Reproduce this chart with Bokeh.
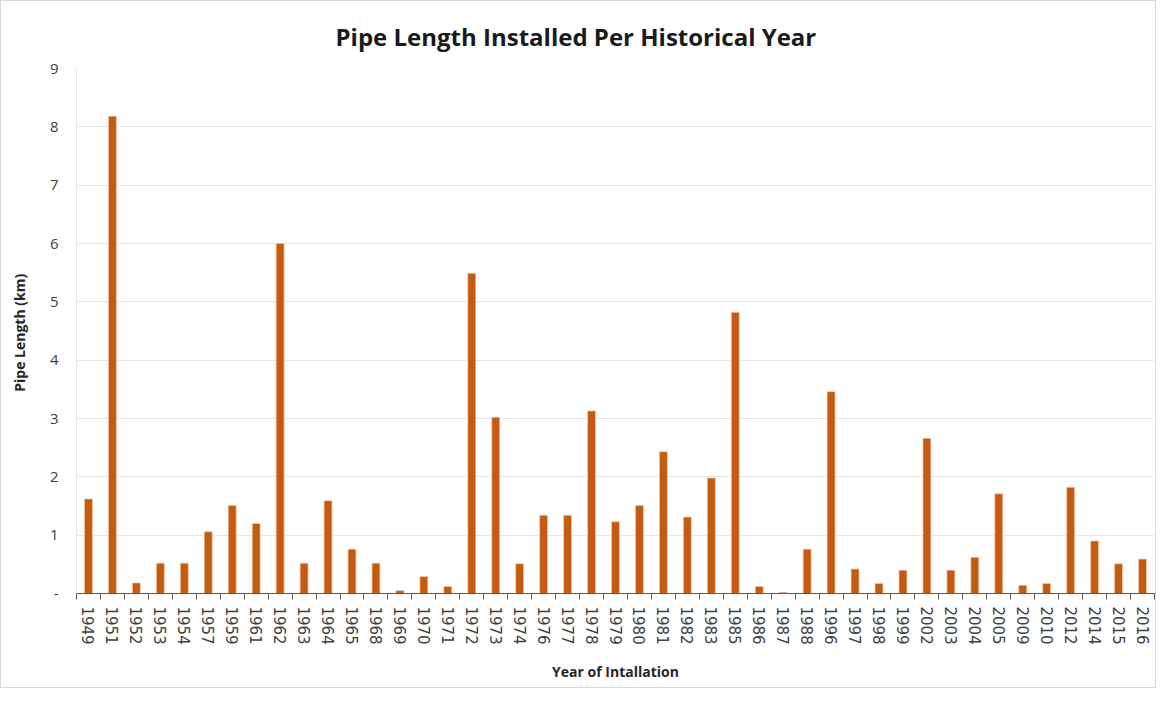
from bokeh.plotting import figure
from bokeh.models import Range1d, FixedTicker, ColumnDataSource, Title
from bokeh.embed import file_html
from bokeh.resources import INLINE
import numpy as np

years = ["1949", "1951", "1952", "1953", "1954", "1957", "1959", "1961", "1962", "1963",
         "1964", "1965", "1968", "1969", "1970", "1971", "1972", "1973", "1974", "1976",
         "1977", "1978", "1979", "1980", "1981", "1982", "1983", "1985", "1986", "1987",
         "1988", "1996", "1997", "1998", "1999", "2002", "2003", "2004", "2005", "2009",
         "2010", "2012", "2014", "2015", "2016"]
lengths = [1.62, 8.18, 0.18, 0.52, 0.52, 1.06, 1.51, 1.20, 6.00, 0.52,
           1.59, 0.76, 0.52, 0.05, 0.29, 0.12, 5.49, 3.02, 0.51, 1.34,
           1.34, 3.13, 1.23, 1.51, 2.43, 1.31, 1.98, 4.82, 0.12, 0.02,
           0.76, 3.46, 0.42, 0.17, 0.40, 2.66, 0.40, 0.62, 1.71, 0.14,
           0.17, 1.82, 0.90, 0.51, 0.59]
y_ticks = [0, 1, 2, 3, 4, 5, 6, 7, 8, 9]
y_labels = ["-", "1", "2", "3", "4", "5", "6", "7", "8", "9"]

n = len(years)
pos = np.arange(n) + 0.5
src = ColumnDataSource(dict(x=pos, top=lengths, year=years))

p = figure(width=1156, height=688, output_backend="svg", toolbar_location=None,
           x_range=Range1d(0, n), y_range=Range1d(0, 9),
           min_border_left=75, min_border_right=3, min_border_top=67, min_border_bottom=96,
           styles={"border": "1px solid #d9d9d9"})
p.outline_line_color = None

t = Title(text="Pipe Length Installed Per Historical Year", align="left", offset=259,
          text_font="Open Sans", text_font_size="24px", text_font_style="bold",
          text_color="#1a1a1a", standoff=31)
p.title = t

p.vbar(x="x", top="top", width=0.33, source=src, fill_color="#C55A11",
       line_color="#f0c9ad", line_width=0.7)

# x axis
p.xaxis.ticker = FixedTicker(ticks=list(pos), minor_ticks=list(range(n + 1)))
p.xaxis.major_label_overrides = {float(x): y for x, y in zip(pos, years)}
p.xaxis.major_label_orientation = "vertical"
p.xaxis.major_tick_line_color = None
p.xaxis.minor_tick_line_color = "#595959"
p.xaxis.minor_tick_out = 6
p.xaxis.minor_tick_in = 0
p.xaxis.axis_line_color = "#595959"
p.xaxis.major_label_text_font = "DejaVu Sans"
p.xaxis.major_label_text_font_size = "15px"
p.xaxis.major_label_text_color = "#404040"
p.xaxis.major_label_standoff = 7
p.xaxis.axis_label = "Year of Intallation"
p.xaxis.axis_label_text_font = "Open Sans"
p.xaxis.axis_label_text_font_size = "14px"
p.xaxis.axis_label_text_font_style = "bold"
p.xaxis.axis_label_text_color = "#262626"
p.xaxis.axis_label_standoff = 14

# y axis
p.yaxis.ticker = FixedTicker(ticks=y_ticks)
p.yaxis.major_label_overrides = {t_: l for t_, l in zip(y_ticks, y_labels)}
p.yaxis.major_tick_line_color = None
p.yaxis.minor_tick_line_color = None
p.yaxis.axis_line_color = "#d0d0d0"
p.yaxis.axis_line_dash = "1 1"
p.yaxis.major_label_text_font = "Open Sans"
p.yaxis.major_label_text_font_size = "15px"
p.yaxis.major_label_text_color = "#404040"
p.yaxis.major_label_standoff = 12
p.yaxis.axis_label = "Pipe Length  (km)"
p.yaxis.axis_label_text_font = "Open Sans"
p.yaxis.axis_label_text_font_size = "14px"
p.yaxis.axis_label_text_font_style = "bold"
p.yaxis.axis_label_text_color = "#262626"
p.yaxis.axis_label_standoff = 18

p.xgrid.grid_line_color = None
p.ygrid.grid_line_color = "#cfcfcf"
p.ygrid.grid_line_dash = "1 1"

open("out.html", "w").write(file_html(p, INLINE))
